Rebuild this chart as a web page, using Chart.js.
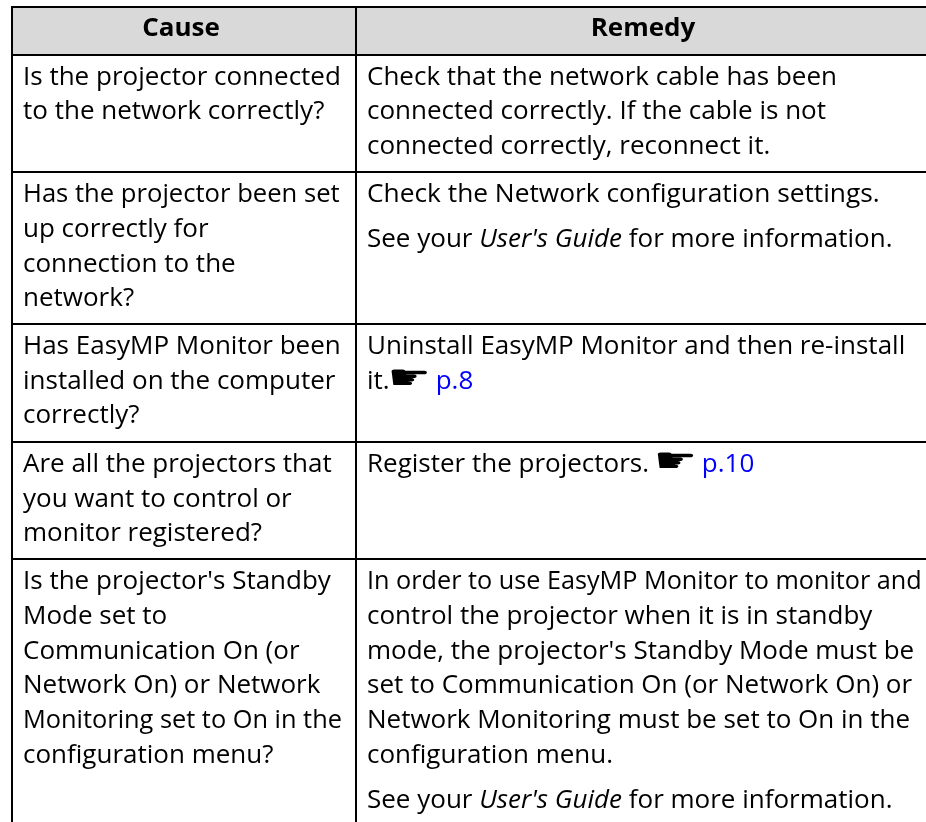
<!DOCTYPE html>
<html>
<head>
<meta charset="utf-8">
<title>Cause and remedy</title>
<script src="https://cdn.jsdelivr.net/npm/chart.js@4"></script>
<style>
  html, body { margin: 0; padding: 0; background: #fff; }
  canvas { display: block; }
</style>
</head>
<body>
<canvas id="tbl" width="926" height="822"></canvas>
<script>
(function () {
  'use strict';

  // Table content. *x* = italic, [x] = link, ☛ = pointer glyph, '' = paragraph gap
  var HEADERS = ['Cause', 'Remedy'];
  var CAUSES = [
    ['Is the projector connected', 'to the network correctly?'],
    ['Has the projector been set', 'up correctly for', 'connection to the', 'network?'],
    ['Has EasyMP Monitor been', 'installed on the computer', 'correctly?'],
    ['Are all the projectors that', 'you want to control or', 'monitor registered?'],
    ["Is the projector's Standby", 'Mode set to', 'Communication On (or', 'Network On) or Network', 'Monitoring set to On in the', 'configuration menu?']
  ];
  var REMEDIES = [
    ['Check that the network cable has been', 'connected correctly. If the cable is not', 'connected correctly, reconnect it.'],
    ['Check the Network configuration settings.', '', "See your *User's Guide* for more information."],
    ['Uninstall EasyMP Monitor and then re-install', 'it.☛ [p.8]'],
    ['Register the projectors. ☛ [p.10]'],
    ['In order to use EasyMP Monitor to monitor and', 'control the projector when it is in standby', "mode, the projector's Standby Mode must be", 'set to Communication On (or Network On) or', 'Network Monitoring must be set to On in the', 'configuration menu.', '', "See your *User's Guide* for more information."]
  ];

  // Rules of the table, in page pixels
  var RULE_X = [12, 356];
  var RULE_Y = [7, 54.5, 172, 323.7, 441.7, 559];

  var FONT = '"Open Sans", sans-serif';
  var TEXT_SIZE = 25;
  var STRETCH = 1.04;
  var HAND_STRETCH = 1.37;
  var LINE_H = 34.8;
  var PARA_GAP = 10;

  // the original sets a few lines tighter or looser than the rest
  var LINE_FIT = {
    'In order to use EasyMP Monitor to monitor and': 0.97,
    'Monitoring set to On in the': 0.975,
    'Has the projector been set': 0.985,
    'Check the Network configuration settings.': 1.012
  };

  function drawLine(ctx, line, x, y) {
    var parts = line.split(/(\*[^*]+\*|\[[^\]]+\]|☛)/).filter(Boolean);
    var pen = 0;
    ctx.save();
    ctx.translate(x, y);
    ctx.scale(STRETCH * (LINE_FIT[line] || 1), 1);
    parts.forEach(function (p) {
      var txt = p, color = '#000', font = TEXT_SIZE + 'px ' + FONT;
      if (p[0] === '*') { txt = p.slice(1, -1); font = 'italic ' + font; }
      if (p[0] === '[') { txt = p.slice(1, -1); color = '#0000ff'; }
      ctx.fillStyle = color;
      if (p === '☛') {
        ctx.font = '34px "DejaVu Sans"';
        ctx.save();
        ctx.translate(pen - 2, 0);
        ctx.scale(HAND_STRETCH, 1);
        ctx.fillText(txt, 0, 0);
        ctx.restore();
        pen += ctx.measureText(txt).width * HAND_STRETCH - 4;
        return;
      }
      ctx.font = font;
      ctx.fillText(txt, pen, 0);
      pen += ctx.measureText(txt).width;
    });
    ctx.restore();
  }

  function drawCell(ctx, lines, x, y) {
    lines.forEach(function (line) {
      if (line === '') { y += PARA_GAP; return; }
      drawLine(ctx, line, x, y);
      y += LINE_H;
    });
  }

  function drawHeader(ctx, text, x, y) {
    ctx.save();
    ctx.translate(x, y);
    ctx.scale(STRETCH, 1);
    ctx.font = 'bold ' + TEXT_SIZE + 'px ' + FONT;
    ctx.textAlign = 'center';
    ctx.fillStyle = '#000';
    ctx.fillText(text, 0, 0);
    ctx.restore();
  }

  var tablePlugin = {
    id: 'tableText',
    afterDatasetsDraw: function (chart) {
      var ctx = chart.ctx, sx = chart.scales.x, sy = chart.scales.y;
      var leftX = sx.getPixelForValue(23), rightX = sx.getPixelForValue(367);
      ctx.save();
      ctx.textBaseline = 'alphabetic';
      ctx.textAlign = 'left';
      drawHeader(ctx, HEADERS[0], sx.getPixelForValue(181), sy.getPixelForValue(36));
      drawHeader(ctx, HEADERS[1], sx.getPixelForValue(643), sy.getPixelForValue(36));
      CAUSES.forEach(function (lines, i) {
        var top = sy.getPixelForValue(RULE_Y[i + 1] + 30);
        drawCell(ctx, lines, leftX, top);
        drawCell(ctx, REMEDIES[i], rightX, top);
      });
      ctx.restore();
    }
  };

  function ruleAxis(min, max, rules, reverse) {
    return {
      type: 'linear',
      min: min,
      max: max,
      reverse: reverse,
      border: { display: false },
      grid: { color: '#000', lineWidth: 2, drawTicks: false, z: 1 },
      ticks: { display: false, autoSkip: false },
      afterBuildTicks: function (scale) {
        scale.ticks = rules.map(function (v) { return { value: v }; });
      }
    };
  }

  new Chart(document.getElementById('tbl').getContext('2d'), {
    type: 'scatter',
    data: {
      datasets: [{
        // header band
        data: [{ x: 12, y: 7 }, { x: 926, y: 7 }],
        showLine: true,
        borderWidth: 0,
        pointRadius: 0,
        backgroundColor: '#d9d9d9',
        fill: { value: RULE_Y[1] }
      }]
    },
    options: {
      responsive: false,
      animation: false,
      layout: { padding: { left: 11, top: 6 } },
      plugins: { legend: { display: false }, tooltip: { enabled: false } },
      scales: {
        x: ruleAxis(11, 926, RULE_X, false),
        y: ruleAxis(6, 822, RULE_Y, true)
      }
    },
    plugins: [tablePlugin]
  });
})();
</script>
</body>
</html>
